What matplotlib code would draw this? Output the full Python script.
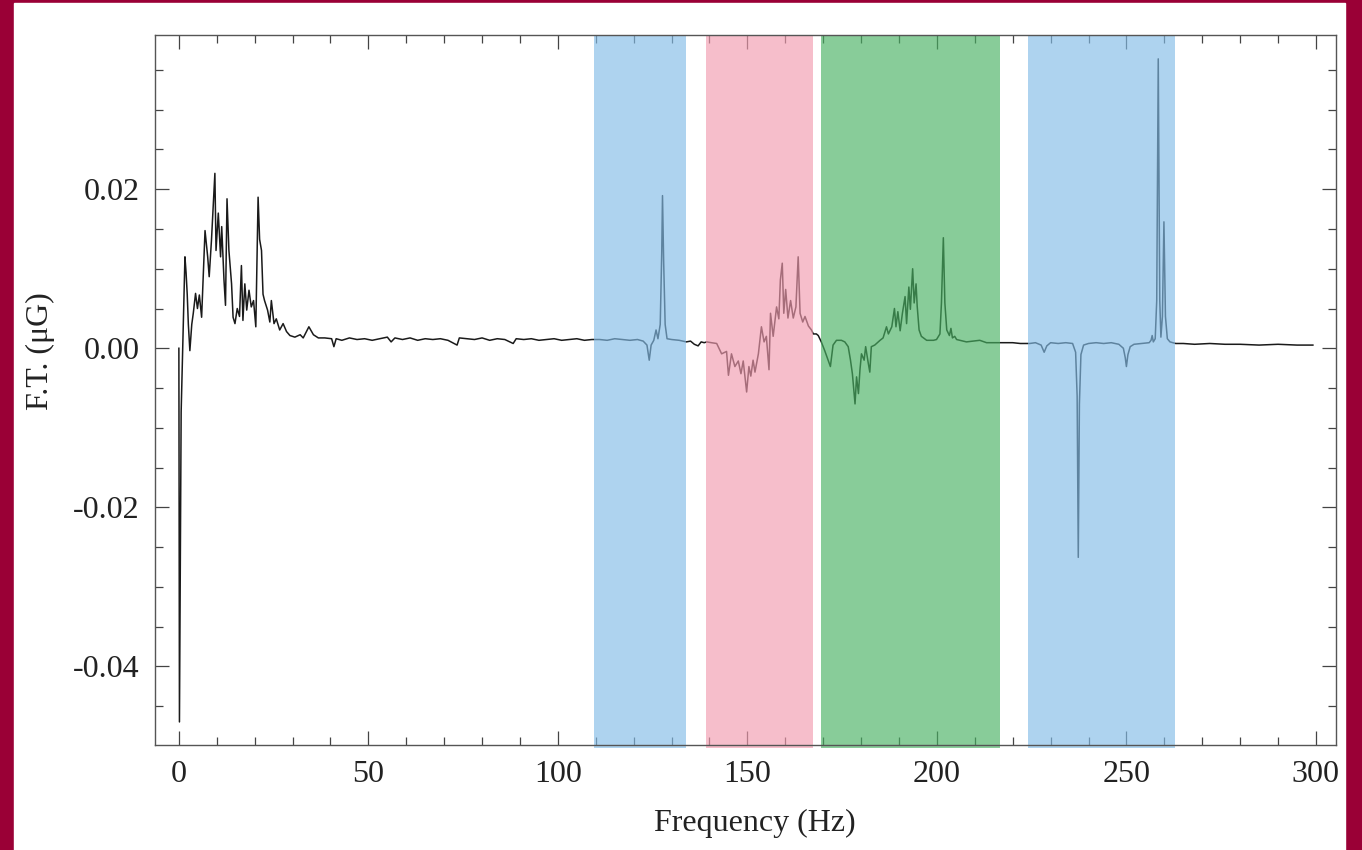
import numpy as np
import matplotlib
matplotlib.use('Agg')
import matplotlib.pyplot as plt
from matplotlib.patches import Rectangle
from matplotlib.ticker import MultipleLocator, FormatStrFormatter

plt.rcParams['font.family'] = ['Liberation Serif', 'DejaVu Serif']
plt.rcParams['axes.unicode_minus'] = False

# spectrum: frequency (Hz) and F.T. (uG)
freq = [
    0.0, 0.15, 0.4, 0.6, 0.9, 1.2, 1.6, 1.9, 2.2, 2.5, 2.9, 3.4, 3.8, 4.4, 4.9, 5.4,
    6.0, 6.9, 7.6, 8.0, 8.6, 9.5, 9.8, 10.4, 11.0, 11.3, 11.9, 12.3, 12.7, 13.2,
    13.9, 14.3, 14.8, 15.4, 16.0, 16.5, 16.9, 17.4, 17.9, 18.5, 19.1, 19.7, 20.3,
    20.9, 21.3, 21.8, 22.2, 22.6, 23.4, 24.0, 24.4, 25.1, 25.7, 26.6, 27.5, 28.4,
    29.3, 30.6, 32.0, 32.8, 34.3, 35.5, 36.8, 38.5, 40.3, 40.9, 41.5, 43, 45, 47,
    49, 51, 53, 55, 56, 57, 59, 61, 63, 65, 67, 69, 71, 73.4, 74, 76, 78, 80, 82,
    84, 86, 88.2, 89, 91, 93, 95, 97, 99, 101, 103, 105, 107, 109, 111, 113, 115,
    117, 119, 121, 122.5, 123.5, 124.1, 124.6, 125.3, 125.9, 126.4, 127.0, 127.4,
    127.6, 127.9, 128.3, 128.8, 130, 132, 133.9, 135, 136, 137, 137.8, 138.6,
    139.3, 140.5, 141.9, 143.2, 144.5, 145.0, 145.8, 146.7, 147.6, 148.3, 148.9,
    149.8, 150.4, 150.9, 151.5, 152.0, 152.9, 153.7, 154.4, 155.0, 155.7, 156.1,
    156.8, 157.7, 158.3, 158.7, 159.2, 159.6, 160.1, 160.7, 161.4, 162.1, 162.8,
    163.4, 163.9, 164.6, 165.2, 166.1, 166.9, 167.4, 168.2, 168.7, 169.5, 170.4,
    171.3, 171.9, 172.6, 173.5, 174.8, 175.7, 176.6, 177.2, 177.7, 178.4, 178.8,
    179.3, 179.7, 180.1, 180.8, 181.2, 181.9, 182.3, 182.7, 183.6, 185.0, 185.8,
    186.7, 187.2, 188.1, 188.8, 189.2, 189.7, 190.3, 190.9, 191.6, 192.0, 192.6,
    193.0, 193.6, 194.0, 194.5, 194.8, 195.3, 195.9, 197.3, 199.1, 199.9, 200.8,
    201.2, 201.7, 202.1, 202.6, 203.3, 203.7, 204.1, 204.7, 205.2, 207.8, 211.3,
    213.1, 216.6, 220, 222, 224.5, 226, 227.5, 228.3, 229, 230, 232, 234, 235.8,
    236.6, 237.0, 237.3, 237.6, 238.0, 238.7, 240, 242, 244, 246, 248, 249.2,
    249.7, 250.0, 250.4, 251, 252, 254, 256, 256.5, 256.8, 257.1, 257.6, 258.0,
    258.4, 258.8, 259.1, 259.5, 259.9, 260.3, 260.8, 261.5, 263, 265, 268, 272,
    276, 280, 285, 290, 295, 299.2,
]
ft = [
    0.0, -0.047, -0.025, -0.008, -0.002, 0.004, 0.0115, 0.0095, 0.0068, 0.0030,
    -0.0003, 0.0030, 0.0044, 0.0069, 0.0050, 0.0067, 0.0039, 0.0148, 0.0115,
    0.0090, 0.0136, 0.0220, 0.0123, 0.0170, 0.0115, 0.0153, 0.0086, 0.0054,
    0.0188, 0.0123, 0.0081, 0.0039, 0.0031, 0.0050, 0.0040, 0.0104, 0.0035,
    0.0081, 0.0048, 0.0073, 0.0052, 0.0060, 0.0027, 0.0190, 0.0137, 0.0123,
    0.0068, 0.0060, 0.0048, 0.0033, 0.0060, 0.0031, 0.0037, 0.0023, 0.0031,
    0.0021, 0.0016, 0.0014, 0.0017, 0.0013, 0.0027, 0.0017, 0.0013, 0.0013,
    0.0012, 0.0002, 0.0012, 0.0010, 0.0013, 0.0011, 0.0012, 0.0010, 0.0012,
    0.0014, 0.0008, 0.0013, 0.0011, 0.0013, 0.0010, 0.0012, 0.0011, 0.0012,
    0.0010, 0.0004, 0.0013, 0.0012, 0.0011, 0.0013, 0.0010, 0.0012, 0.0011,
    0.0006, 0.0012, 0.0011, 0.0012, 0.0010, 0.0011, 0.0012, 0.0010, 0.0011,
    0.0012, 0.0010, 0.0011, 0.0011, 0.0010, 0.0012, 0.0011, 0.0010, 0.0011,
    0.0009, 0.0004, -0.0015, 0.0004, 0.0010, 0.0023, 0.0012, 0.0030, 0.0120,
    0.0192, 0.0110, 0.0030, 0.0012, 0.0011, 0.0010, 0.0008, 0.0009, 0.0005,
    0.0003, 0.0008, 0.0007, 0.0008, 0.0007, 0.0006, -0.0007, -0.0004, -0.0034,
    -0.0007, -0.0023, -0.0016, -0.0032, -0.0016, -0.0055, -0.0023, -0.0035,
    -0.0015, -0.0030, -0.0007, 0.0027, 0.0008, 0.0015, -0.0027, 0.0044, 0.0015,
    0.0052, 0.0037, 0.0086, 0.0107, 0.0044, 0.0074, 0.0038, 0.0060, 0.0038,
    0.0052, 0.0115, 0.0044, 0.0033, 0.0040, 0.0028, 0.0023, 0.0018, 0.0018,
    0.0016, 0.0008, -0.0003, -0.0015, -0.0023, 0.0004, 0.0010, 0.0010, 0.0008,
    0.0002, -0.0015, -0.0032, -0.0070, -0.0036, -0.0057, -0.0027, -0.0007,
    -0.0015, 0.0002, -0.0019, -0.0030, 0.0002, 0.0004, 0.0010, 0.0013, 0.0027,
    0.0018, 0.0027, 0.0050, 0.0027, 0.0046, 0.0022, 0.0044, 0.0065, 0.0031,
    0.0077, 0.0049, 0.0100, 0.0057, 0.0081, 0.0053, 0.0023, 0.0015, 0.0010,
    0.0010, 0.0011, 0.0018, 0.0057, 0.0139, 0.0057, 0.0023, 0.0016, 0.0025,
    0.0013, 0.0015, 0.0011, 0.0008, 0.0010, 0.0007, 0.0007, 0.0007, 0.0006,
    0.0006, 0.0007, 0.0004, -0.0005, 0.0003, 0.0007, 0.0006, 0.0007, 0.0006,
    -0.0005, -0.0060, -0.0263, -0.0070, -0.0008, 0.0004, 0.0006, 0.0007, 0.0006,
    0.0007, 0.0005, 0.0000, -0.0012, -0.0023, -0.0008, 0.0002, 0.0005, 0.0006,
    0.0007, 0.0010, 0.0016, 0.0008, 0.0012, 0.0060, 0.0364, 0.0060, 0.0014,
    0.0040, 0.0159, 0.0040, 0.0012, 0.0008, 0.0006, 0.0006, 0.0005, 0.0006,
    0.0005, 0.0005, 0.0004, 0.0005, 0.0004, 0.0004,
]

# highlighted bands (Hz)
band_lo = [109.5, 139.0, 169.4, 224.0]
band_hi = [133.8, 167.3, 216.6, 262.8]
band_colors = ['#83BCE7', '#F29BAF', '#48B162', '#83BCE7']

fig = plt.figure(figsize=(13.62, 8.5), dpi=100, facecolor='#9A0036')
fig.patches.append(Rectangle((14 / 1362, 0), (1345 - 14) / 1362, 847 / 850,
                             transform=fig.transFigure, color='white', zorder=-1))
ax = fig.add_axes([155 / 1362, 105 / 850, 1181 / 1362, 710 / 850])
ax.set_zorder(1)
ax.set_facecolor('white')

ax.plot(freq, ft, color='#1a1a1a', lw=1.1, zorder=1)
for lo, hi, c in zip(band_lo, band_hi, band_colors):
    ax.axvspan(lo, hi, ymin=-0.004, ymax=1.0, color=c, alpha=0.65, lw=0,
               zorder=2, clip_on=False)

ax.set_xlim(-6.3, 305.3)
ax.set_ylim(-0.0499, 0.0394)
ax.xaxis.set_major_locator(MultipleLocator(50))
ax.xaxis.set_minor_locator(MultipleLocator(10))
ax.yaxis.set_major_locator(MultipleLocator(0.02))
ax.yaxis.set_minor_locator(MultipleLocator(0.005))
ax.yaxis.set_major_formatter(FormatStrFormatter('%.2f'))

ax.tick_params(which='both', direction='in', top=True, right=True,
               color='#444444', width=0.9, labelsize=23, labelcolor='#222222')
ax.tick_params(which='major', length=10, pad=11)
ax.tick_params(which='minor', length=6)
for s in ax.spines.values():
    s.set_color('#555555')
    s.set_linewidth(1.0)
    s.set_zorder(3)

ax.set_xlabel('Frequency (Hz)', fontsize=23, color='#222222')
ax.set_ylabel('F.T. (μG)', fontsize=23, color='#222222')
ax.xaxis.set_label_coords(0.508, -0.09)
ax.yaxis.set_label_coords(-0.085, 0.555)

fig.savefig('out.png', dpi=100)
